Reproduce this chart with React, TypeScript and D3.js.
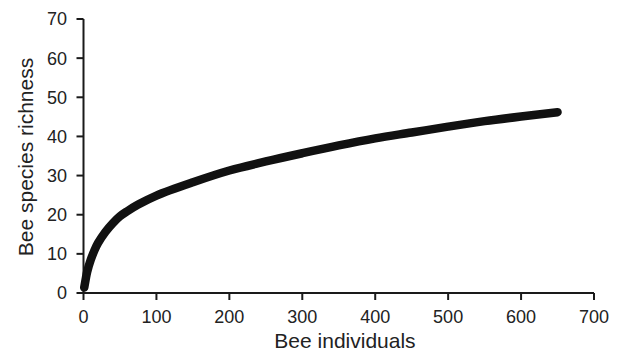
import React from "react";
import * as d3 from "d3";

const xValues = [1, 3, 5, 10, 15, 20, 30, 40, 50, 60, 75, 100, 150, 200, 250, 300, 350, 400, 450, 500, 550, 600, 650];
const richness = [1.4, 3.5, 5.4, 8.5, 10.9, 12.8, 15.6, 17.8, 19.6, 20.9, 22.6, 24.9, 28.3, 31.3, 33.6, 35.7, 37.7, 39.5, 41.0, 42.5, 43.9, 45.1, 46.2];
const xTicks = [0, 100, 200, 300, 400, 500, 600, 700];
const yTicks = [0, 10, 20, 30, 40, 50, 60, 70];

const W = 620;
const H = 352;
const margin = { left: 83.5, right: 26, top: 19, bottom: 59 };

export default function App() {
  const x = d3.scaleLinear().domain([0, 700]).range([margin.left, W - margin.right]);
  const y = d3.scaleLinear().domain([0, 70]).range([H - margin.bottom, margin.top]);
  const pts = xValues.map((v, i) => [v, richness[i]] as [number, number]);
  const line = d3
    .line<[number, number]>()
    .x((d) => x(d[0]))
    .y((d) => y(d[1]))
    .curve(d3.curveCatmullRom.alpha(0.5));
  const font = "'Liberation Sans', Arial, sans-serif";
  const axisColor = "#1a1a1a";
  const textColor = "#222";
  return (
    <svg width={W} height={H} style={{ position: "absolute", left: 0, top: 0 }} fontFamily={font}>
      <rect width={W} height={H} fill="#fff" />
      <line x1={x(0)} x2={x(0)} y1={y(70)} y2={y(0)} stroke={axisColor} strokeWidth={2} />
      <line x1={x(0)} x2={x(700)} y1={y(0)} y2={y(0)} stroke={axisColor} strokeWidth={2} />
      {yTicks.map((t) => (
        <g key={"y" + t}>
          <line x1={x(0) - 7} x2={x(0)} y1={y(t)} y2={y(t)} stroke={axisColor} strokeWidth={2} />
          <text x={67} y={y(t)} dy="0.36em" textAnchor="end" fontSize={18} fill={textColor}>
            {t}
          </text>
        </g>
      ))}
      {xTicks.map((t) => (
        <g key={"x" + t}>
          <line x1={x(t)} x2={x(t)} y1={y(0)} y2={y(0) + 7} stroke={axisColor} strokeWidth={2} />
          <text x={x(t)} y={323} textAnchor="middle" fontSize={18} fill={textColor}>
            {t}
          </text>
        </g>
      ))}
      <text x={345} y={348} textAnchor="middle" fontSize={21} fill={textColor}>
        Bee individuals
      </text>
      <text
        transform={`translate(33, 157) rotate(-90)`}
        textAnchor="middle"
        fontSize={21}
        fill={textColor}
      >
        Bee species richness
      </text>
      <path d={line(pts) || ""} fill="none" stroke="#111" strokeWidth={8.5} strokeLinecap="round" strokeLinejoin="round" />
    </svg>
  );
}
